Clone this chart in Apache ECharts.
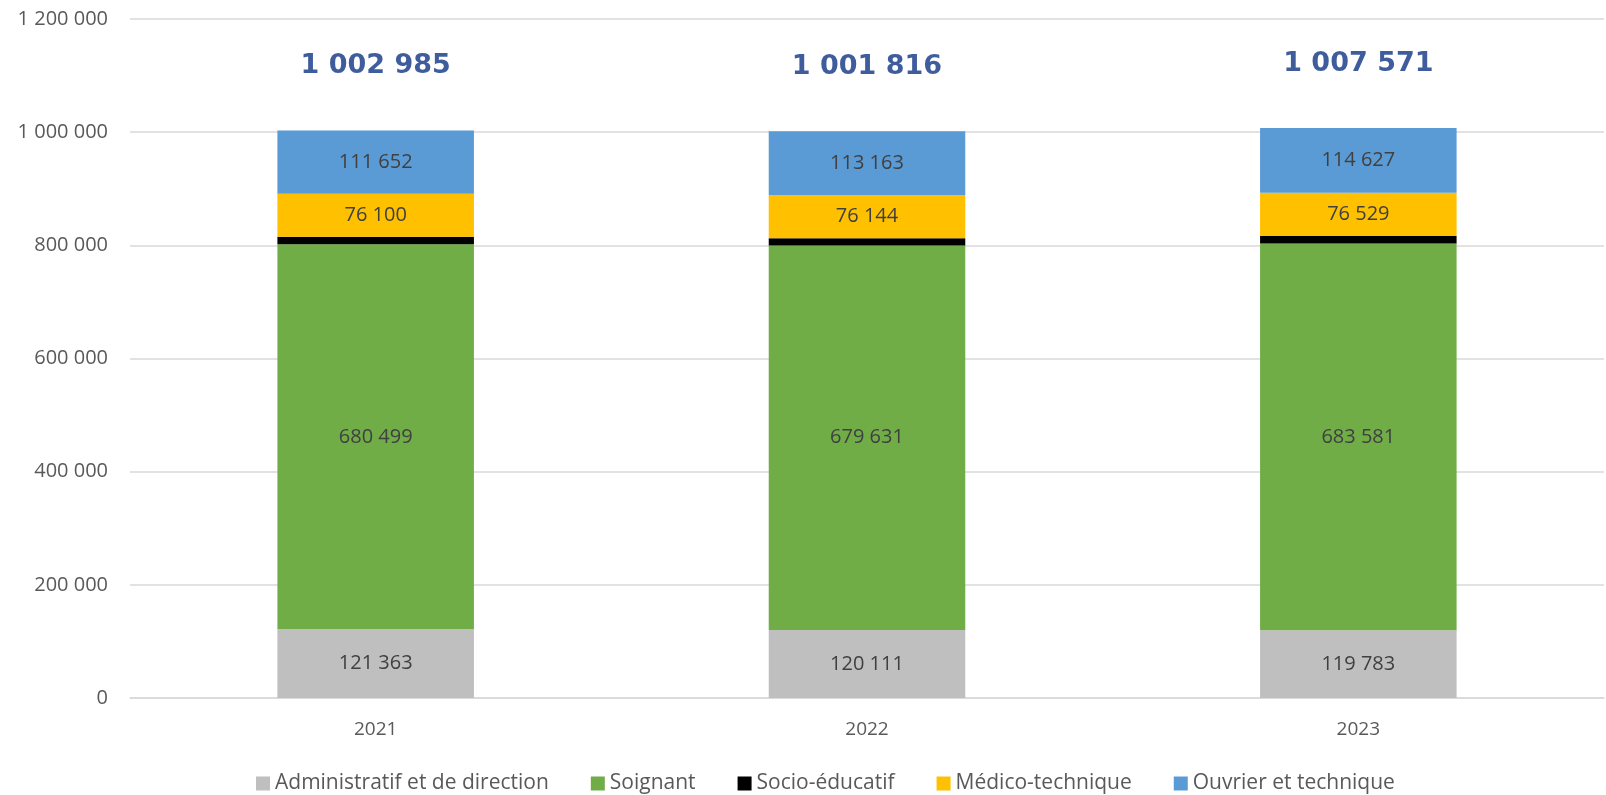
<!DOCTYPE html>
<html><head><meta charset="utf-8">
<script src="https://cdn.jsdelivr.net/npm/echarts@6/dist/echarts.min.js"></script>
<style>html,body{margin:0;padding:0;background:#fff}#c{width:1606px;height:795px}</style>
</head><body><div id="c"></div>
<script>
const categories = ['2021', '2022', '2023'];
const seriesNames = ['Administratif et de direction', 'Soignant', 'Socio-éducatif', 'Médico-technique', 'Ouvrier et technique'];
const administratif = [121363, 120111, 119783];
const soignant = [680499, 679631, 683581];
const socioEducatif = [13371, 12767, 13051];
const medicoTechnique = [76100, 76144, 76529];
const ouvrier = [111652, 113163, 114627];
const totals = [1002985, 1001816, 1007571];
const colors = ['#BFBFBF', '#70AD47', '#000000', '#FFC000', '#5B9BD5'];

const fmt = v => String(v).replace(/\B(?=(\d{3})+(?!\d))/g, ' ');
const font = '"Open Sans", "Liberation Sans", sans-serif';
const values = [administratif, soignant, socioEducatif, medicoTechnique, ouvrier];

const series = seriesNames.map((n, i) => ({
  name: n, type: 'bar', stack: 'total', barWidth: '40%',
  itemStyle: { color: colors[i] },
  label: {
    show: i !== 2, position: 'inside', color: '#404040', fontSize: 20, fontFamily: font,
    formatter: p => fmt(p.value)
  },
  data: values[i]
}));
series.push({
  name: 'Total', type: 'scatter', symbolSize: 0, data: totals,
  label: {
    show: true, position: 'inside', offset: [0, -64], color: '#0F3485', fontSize: 27, fontWeight: 'bold',
    fontFamily: '"DejaVu Sans", sans-serif', formatter: p => fmt(p.value)
  },
  tooltip: { show: false }
});

const chart = echarts.init(document.getElementById('c'));
chart.setOption({
  animation: false,
  grid: { left: 130, right: 2, top: 19, bottom: 97, containLabel: false },
  legend: {
    data: seriesNames, top: 768, left: 251, itemWidth: 14, itemHeight: 14, itemGap: 42,
    icon: 'rect', textStyle: { color: '#595959', fontSize: 21, fontFamily: font }
  },
  xAxis: {
    type: 'category', data: categories,
    axisLine: { lineStyle: { color: '#D9D9D9', width: 1.5 } }, axisTick: { show: false },
    axisLabel: { color: '#595959', fontSize: 19, fontFamily: font, margin: 22 }
  },
  yAxis: {
    type: 'value', min: 0, max: 1200000, interval: 200000,
    axisLine: { show: false }, axisTick: { show: false },
    splitLine: { lineStyle: { color: '#D9D9D9', width: 1.5 } },
    axisLabel: { color: '#595959', fontSize: 20, fontFamily: font, margin: 22, formatter: v => fmt(v) }
  },
  series
});
</script></body></html>
